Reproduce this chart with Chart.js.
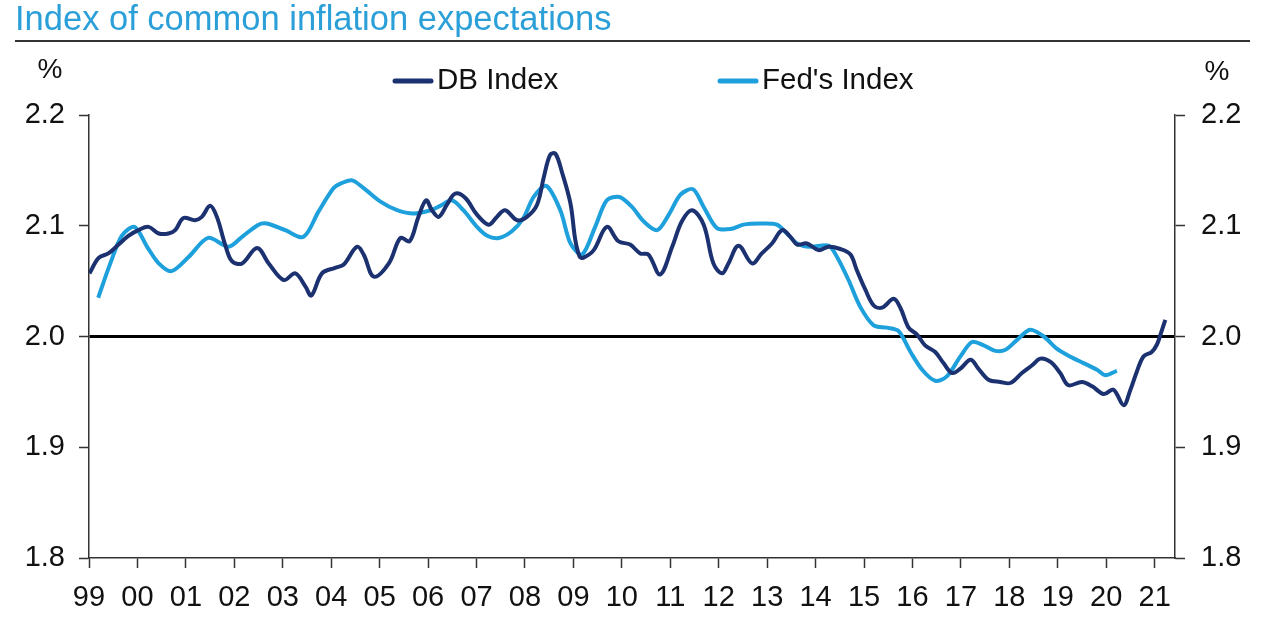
<!DOCTYPE html>
<html>
  <head>
    <title>Index of common inflation expectations</title>
    <script src="https://cdn.jsdelivr.net/npm/chart.js@4.4.1/dist/chart.umd.min.js"></script>
    <style>
      html, body { margin: 0; padding: 0; background: #fff; }
      #container { width: 1280px; height: 632px; position: relative; }
    </style>
  </head>

  <body>
    <div id="container">
      <canvas id="canvas"></canvas>
    </div>
    <script>
      // x axis: one tick per calendar year, labelled with two digits
      const yearTicks = [1999, 2000, 2001, 2002, 2003, 2004, 2005, 2006, 2007, 2008, 2009, 2010,
        2011, 2012, 2013, 2014, 2015, 2016, 2017, 2018, 2019, 2020, 2021];
      const yearLabels = ['99', '00', '01', '02', '03', '04', '05', '06', '07', '08', '09', '10',
        '11', '12', '13', '14', '15', '16', '17', '18', '19', '20', '21'];

      // DB Index (dates in decimal years, values in %)
      const dbDates = [1999.01, 1999.20, 1999.40, 1999.61, 1999.82, 2000.02, 2000.23, 2000.44, 2000.64, 2000.78,
        2000.95, 2001.19, 2001.33, 2001.50, 2001.64, 2001.81, 2001.95, 2002.16, 2002.47, 2002.71,
        2003.02, 2003.26, 2003.47, 2003.59, 2003.81, 2004.08, 2004.26, 2004.53, 2004.67, 2004.88,
        2005.19, 2005.43, 2005.62, 2005.80, 2005.96, 2006.08, 2006.22, 2006.39, 2006.56, 2006.77,
        2007.01, 2007.25, 2007.42, 2007.59, 2007.84, 2008.04, 2008.25, 2008.39, 2008.52, 2008.63,
        2008.76, 2008.94, 2009.04, 2009.13, 2009.20, 2009.42, 2009.69, 2009.93, 2010.17, 2010.38,
        2010.55, 2010.79, 2011.04, 2011.24, 2011.45, 2011.69, 2011.89, 2012.07, 2012.20, 2012.41,
        2012.69, 2012.89, 2013.10, 2013.31, 2013.48, 2013.62, 2013.82, 2014.06, 2014.27, 2014.51,
        2014.72, 2014.85, 2015.03, 2015.20, 2015.37, 2015.61, 2015.75, 2015.92, 2016.09, 2016.26,
        2016.47, 2016.64, 2016.82, 2016.99, 2017.20, 2017.36, 2017.57, 2017.81, 2018.02, 2018.26,
        2018.47, 2018.64, 2018.85, 2019.05, 2019.22, 2019.50, 2019.71, 2019.95, 2020.15, 2020.36,
        2020.50, 2020.63, 2020.77, 2020.94, 2021.05, 2021.13, 2021.22];
      const dbValues = [2.057, 2.071, 2.075, 2.083, 2.091, 2.096, 2.099, 2.093, 2.093, 2.096,
        2.107, 2.105, 2.108, 2.118, 2.108, 2.083, 2.068, 2.066, 2.080, 2.066,
        2.051, 2.057, 2.045, 2.037, 2.057, 2.062, 2.065, 2.081, 2.074, 2.054,
        2.066, 2.089, 2.086, 2.108, 2.123, 2.114, 2.108, 2.119, 2.129, 2.125,
        2.110, 2.101, 2.108, 2.114, 2.105, 2.108, 2.119, 2.144, 2.164, 2.165,
        2.149, 2.120, 2.087, 2.072, 2.071, 2.078, 2.099, 2.086, 2.083, 2.075,
        2.074, 2.056, 2.081, 2.104, 2.114, 2.101, 2.066, 2.057, 2.066, 2.082,
        2.066, 2.075, 2.084, 2.096, 2.090, 2.083, 2.084, 2.078, 2.081, 2.079,
        2.074, 2.060, 2.042, 2.028, 2.026, 2.034, 2.026, 2.008, 2.002, 1.992,
        1.986, 1.976, 1.967, 1.971, 1.979, 1.971, 1.961, 1.959, 1.958, 1.967,
        1.974, 1.980, 1.977, 1.967, 1.956, 1.959, 1.955, 1.948, 1.952, 1.938,
        1.952, 1.968, 1.982, 1.986, 1.993, 2.003, 2.015];

      // Fed's Index
      const fedDates = [1999.19, 1999.44, 1999.68, 1999.94, 2000.20, 2000.44, 2000.70, 2001.06, 2001.46, 2001.88,
        2002.16, 2002.50, 2002.67, 2003.05, 2003.43, 2003.74, 2004.05, 2004.19, 2004.43, 2004.67,
        2005.01, 2005.36, 2005.70, 2006.05, 2006.25, 2006.49, 2006.73, 2007.01, 2007.22, 2007.46,
        2007.73, 2007.97, 2008.18, 2008.44, 2008.73, 2008.94, 2009.18, 2009.45, 2009.69, 2009.95,
        2010.21, 2010.45, 2010.73, 2010.97, 2011.21, 2011.47, 2011.69, 2011.96, 2012.24, 2012.51,
        2012.86, 2013.20, 2013.41, 2013.62, 2013.89, 2014.27, 2014.44, 2014.68, 2014.92, 2015.20,
        2015.47, 2015.71, 2015.96, 2016.20, 2016.47, 2016.71, 2016.99, 2017.23, 2017.47, 2017.71,
        2017.92, 2018.16, 2018.43, 2018.71, 2018.98, 2019.25, 2019.53, 2019.81, 2019.98, 2020.22];
      const fedValues = [2.035, 2.066, 2.091, 2.099, 2.081, 2.066, 2.059, 2.072, 2.089, 2.081,
        2.090, 2.101, 2.102, 2.096, 2.090, 2.113, 2.134, 2.138, 2.141, 2.134,
        2.122, 2.114, 2.111, 2.114, 2.118, 2.123, 2.114, 2.099, 2.091, 2.089,
        2.095, 2.107, 2.126, 2.136, 2.114, 2.084, 2.074, 2.099, 2.123, 2.126,
        2.117, 2.104, 2.096, 2.110, 2.128, 2.133, 2.117, 2.098, 2.097, 2.101,
        2.102, 2.101, 2.093, 2.084, 2.081, 2.082, 2.072, 2.051, 2.027, 2.010,
        2.008, 2.005, 1.986, 1.970, 1.960, 1.964, 1.982, 1.995, 1.992, 1.987,
        1.988, 1.997, 2.006, 2.000, 1.989, 1.982, 1.976, 1.970, 1.965, 1.969];

      const dbColor = '#1b3170';
      const fedColor = '#1ea0dc';
      const font = 'Liberation Sans, Arial, sans-serif';

      const toPoints = (xs, ys) => xs.map((x, i) => ({ x: x, y: ys[i] }));

      // title, rule, unit labels and legend are painted straight onto the canvas
      const decorations = {
        id: 'decorations',
        afterDraw(chart) {
          const ctx = chart.ctx;
          ctx.save();
          ctx.fillStyle = '#2a9fd8';
          ctx.font = '34.5px ' + font;
          ctx.textBaseline = 'alphabetic';
          ctx.textAlign = 'left';
          ctx.fillText('Index of common inflation expectations', 15, 30);

          ctx.strokeStyle = '#333';
          ctx.lineWidth = 2;
          ctx.beginPath();
          ctx.moveTo(15, 41);
          ctx.lineTo(1250, 41);
          ctx.stroke();

          ctx.fillStyle = '#111';
          ctx.font = '28px ' + font;
          ctx.textBaseline = 'middle';
          ctx.textAlign = 'center';
          ctx.fillText('%', 50, 70);
          ctx.fillText('%', 1217, 72);

          const items = [
            { label: 'DB Index', color: dbColor, x: 393 },
            { label: "Fed's Index", color: fedColor, x: 718 },
          ];
          ctx.textAlign = 'left';
          ctx.font = '29.5px ' + font;
          items.forEach((it) => {
            ctx.strokeStyle = it.color;
            ctx.lineWidth = 5;
            ctx.lineCap = 'round';
            ctx.beginPath();
            ctx.moveTo(it.x + 2, 81);
            ctx.lineTo(it.x + 38, 81);
            ctx.stroke();
            ctx.fillStyle = '#111';
            ctx.fillText(it.label, it.x + 44, 81);
          });
          ctx.restore();
        },
      };

      const yTicks = {
        stepSize: 0.1,
        color: '#111',
        font: { family: font, size: 29 },
        padding: 14,
        callback: (v) => v.toFixed(1),
      };

      window.onload = () => {
        const ctx = document.getElementById('canvas').getContext('2d');
        new Chart(ctx, {
          type: 'line',
          data: {
            datasets: [
              {
                label: 'DB Index',
                data: toPoints(dbDates, dbValues),
                borderColor: dbColor,
                borderWidth: 4,
                pointRadius: 0,
                tension: 0.35,
                yAxisID: 'y',
              },
              {
                label: "Fed's Index",
                data: toPoints(fedDates, fedValues),
                borderColor: fedColor,
                borderWidth: 4,
                pointRadius: 0,
                tension: 0.3,
                yAxisID: 'y',
              },
            ],
          },
          options: {
            responsive: true,
            maintainAspectRatio: false,
            animation: false,
            layout: { padding: { top: 115, left: 0, right: 0, bottom: 0 } },
            plugins: {
              legend: { display: false },
              title: { display: false },
              tooltip: { enabled: false },
            },
            scales: {
              x: {
                type: 'linear',
                min: 1999,
                max: 2021.42,
                afterBuildTicks: (axis) => {
                  axis.ticks = yearTicks.map((v) => ({ value: v }));
                },
                afterFit: (axis) => { axis.height = 74; },
                grid: { drawOnChartArea: false, tickLength: 10, tickColor: '#333', tickWidth: 1.5 },
                border: { color: '#333', width: 1.5 },
                ticks: {
                  color: '#111',
                  font: { family: font, size: 29 },
                  padding: 13,
                  maxRotation: 0,
                  autoSkip: false,
                  callback: (v, i) => yearLabels[i],
                },
              },
              y: {
                position: 'left',
                min: 1.8,
                max: 2.2,
                afterFit: (axis) => { axis.width = 89; },
                grid: {
                  color: (c) => (Math.abs(c.tick.value - 2) < 1e-6 ? '#000' : 'rgba(0,0,0,0)'),
                  lineWidth: (c) => (Math.abs(c.tick.value - 2) < 1e-6 ? 3 : 1),
                  tickColor: '#333',
                  tickWidth: 1.5,
                  tickLength: 10,
                },
                border: { color: '#333', width: 1.5 },
                ticks: yTicks,
              },
              y2: {
                position: 'right',
                min: 1.8,
                max: 2.2,
                afterFit: (axis) => { axis.width = 105; },
                grid: { drawOnChartArea: false, tickColor: '#333', tickWidth: 1.5, tickLength: 10 },
                border: { color: '#333', width: 1.5 },
                ticks: Object.assign({}, yTicks, { padding: 16 }),
              },
            },
          },
          plugins: [decorations],
        });
      };
    </script>
  </body>
</html>
